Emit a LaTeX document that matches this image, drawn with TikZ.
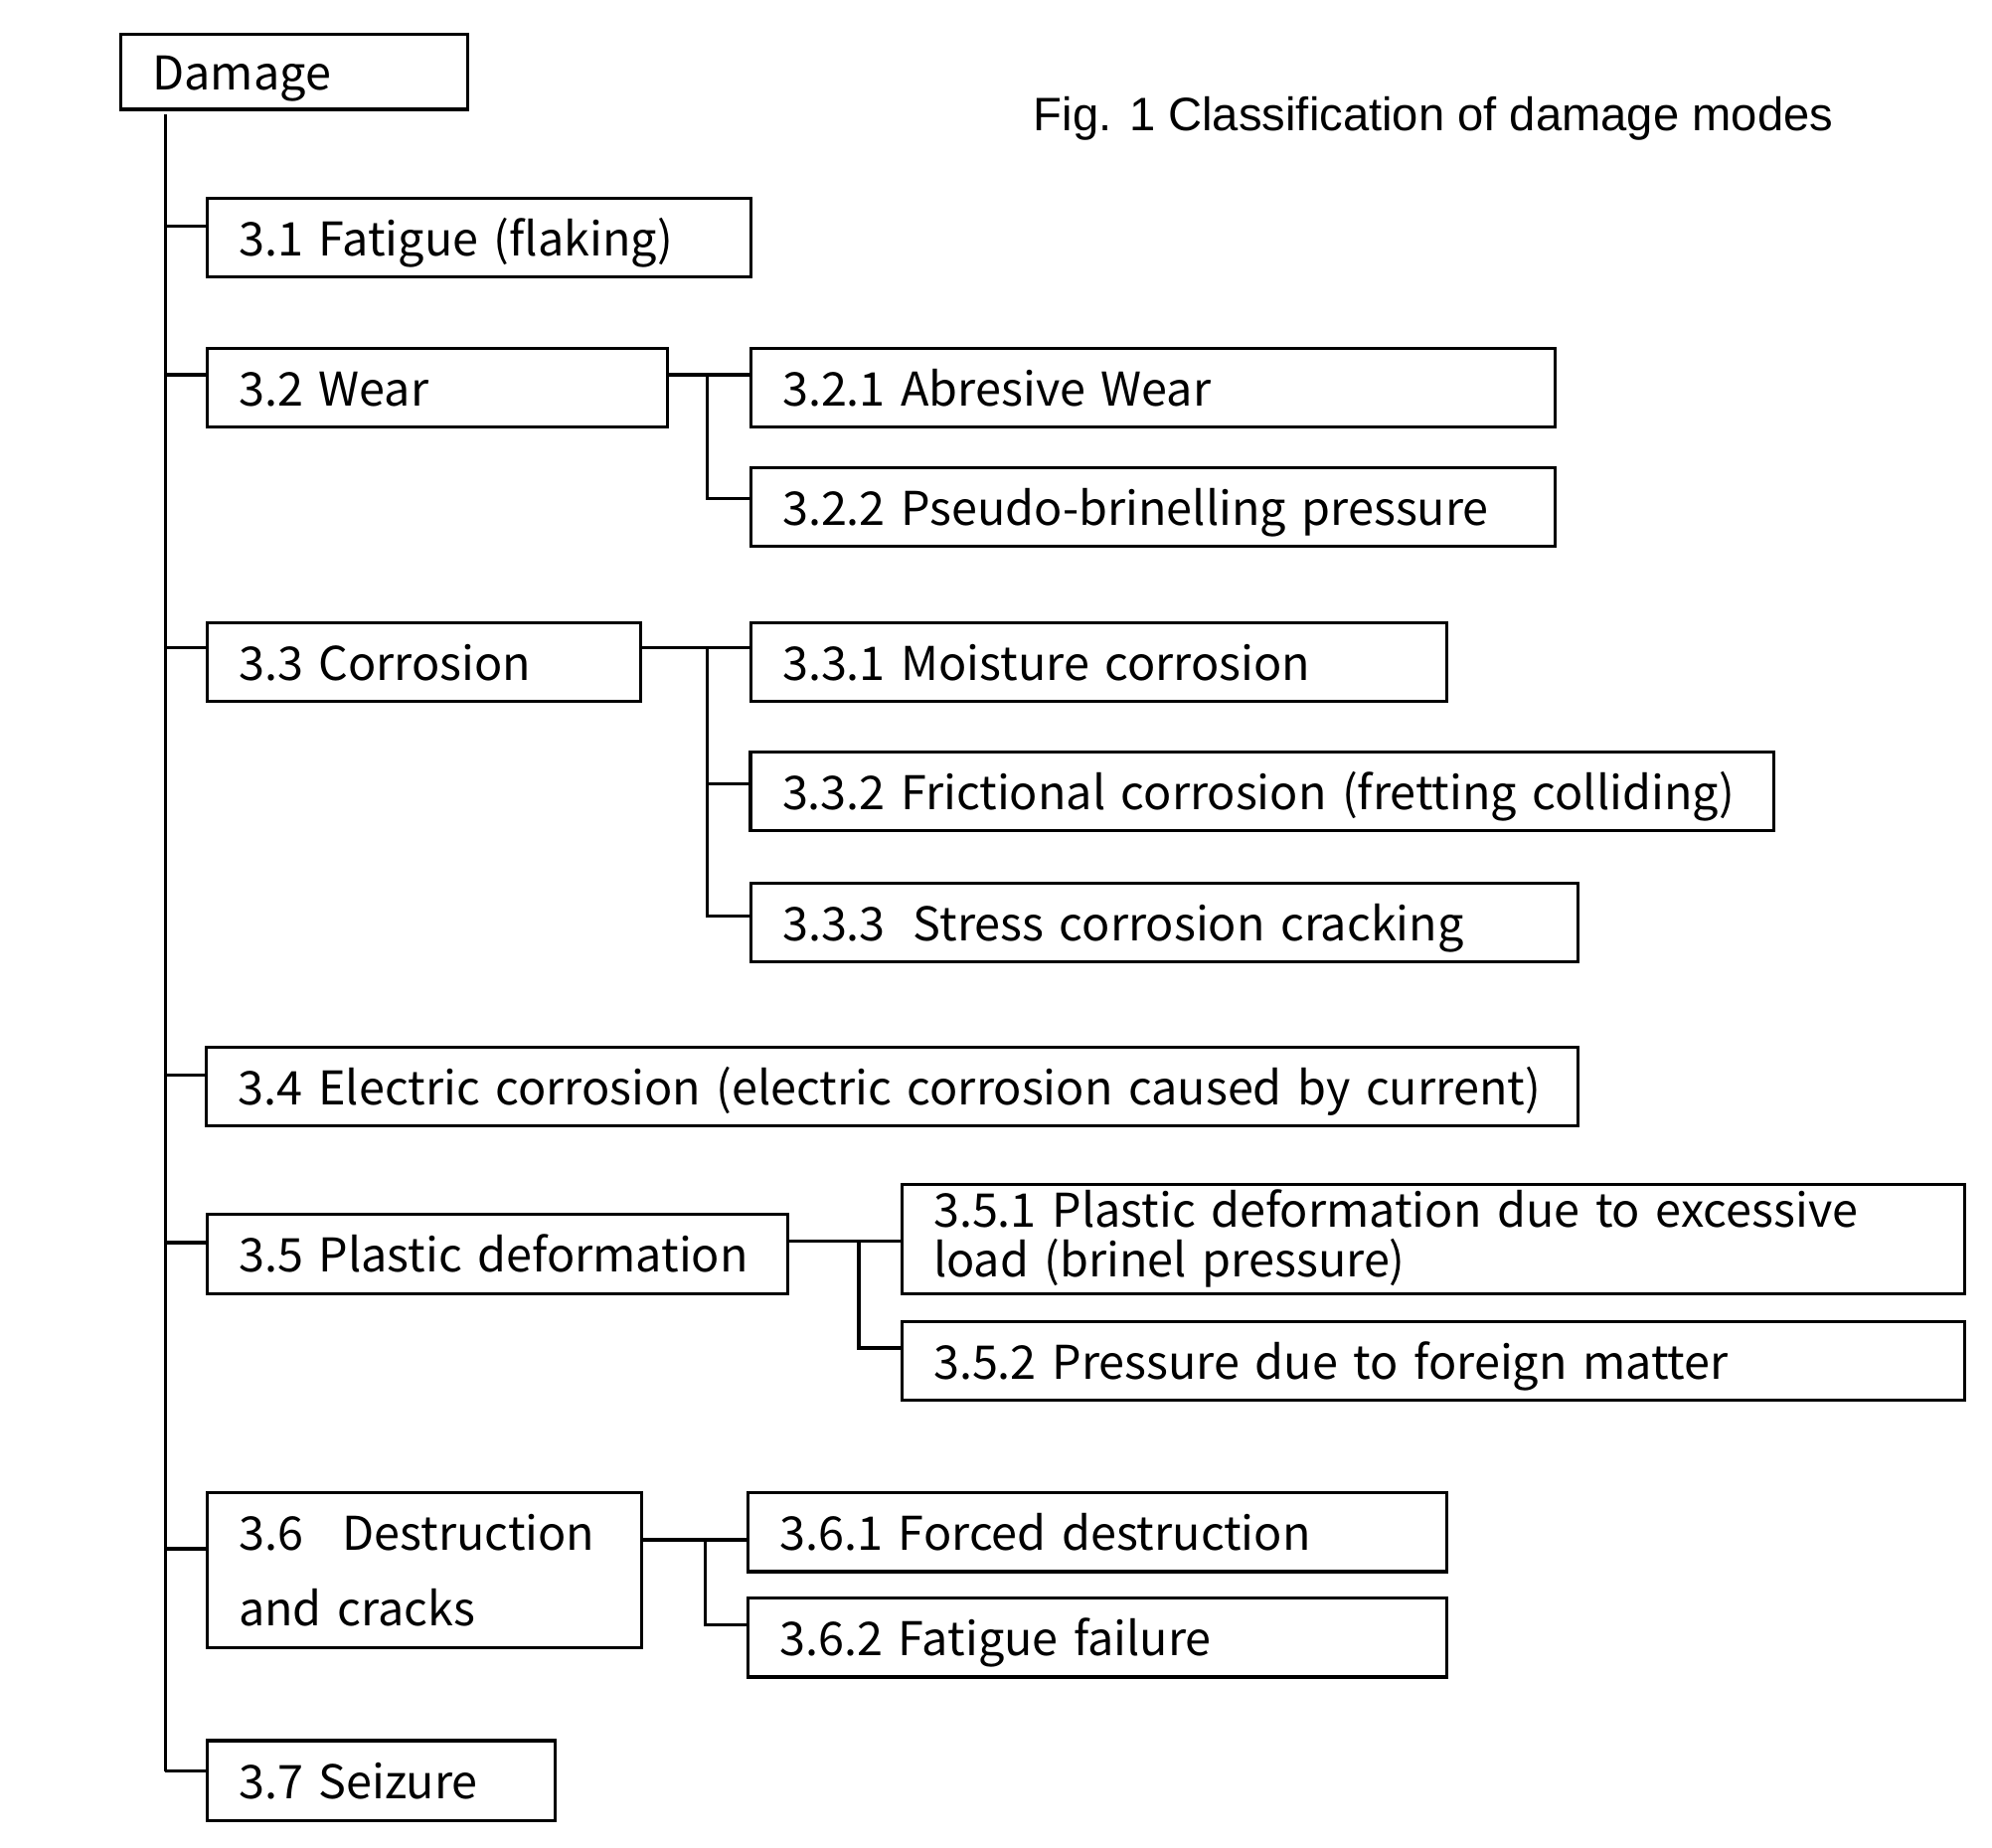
\documentclass[tikz,border=0pt]{standalone}
\usepackage{fontspec}
\setmainfont{Noto Sans CJK JP}
\newfontfamily\titlefont{Liberation Sans}
\begin{document}
\begin{tikzpicture}[x=0.01cm,y=-0.01cm,
  box/.style={draw, line width=0.7pt, inner xsep=0.25cm, inner ysep=0pt, align=left, anchor=center, minimum height=0.62cm,
    font=\fontsize{10.4}{11.1}\selectfont},
  one/.style={text height=0.36cm, text depth=0.07cm},
  conn/.style={line width=0.7pt}]
\useasboundingbox (0,0) rectangle (1568,1454);
% title
\node[anchor=base west, inner sep=0, font=\titlefont\fontsize{10.5}{13}\selectfont] (title) at (813,103) {Fig. 1 Classification of damage modes};
% root
\node[box, one, text width=2.23cm, minimum height=0.59cm] (dmg) at (231.5,56.5) {Damage};
% level 1
\node[box, one, text width=3.78cm] (b31) at (377,187) {\mbox{3.1 Fatigue (flaking)}};
\node[box, one, text width=3.12cm] (b32) at (344,305) {\mbox{3.2 Wear}};
\node[box, one, text width=2.91cm] (b33) at (333.5,521) {\mbox{3.3 Corrosion}};
\node[box, one, text width=10.29cm] (b34) at (702.5,855) {\mbox{3.4 Electric corrosion (electric corrosion caused by current)}};
\node[box, one, text width=4.07cm] (b35) at (391.5,987) {\mbox{3.5 Plastic deformation}};
\node[box, text width=2.92cm, minimum height=1.22cm, font=\fontsize{10.4}{16.8}\selectfont] (b36) at (334,1236) {3.6\hspace{0.85em}Destruction\\and cracks};
\node[box, one, text width=2.24cm, minimum height=0.63cm] (b37) at (300,1401.5) {\mbox{3.7 Seizure}};
% level 2
\node[box, one, text width=5.83cm] (b321) at (907.5,305) {\mbox{3.2.1 Abresive Wear}};
\node[box, one, text width=5.83cm] (b322) at (907.5,399) {\mbox{3.2.2 Pseudo-brinelling pressure}};
\node[box, one, text width=4.98cm] (b331) at (865,521) {\mbox{3.3.1 Moisture corrosion}};
\node[box, one, text width=7.55cm] (b332) at (993.5,623) {\mbox{3.3.2 Frictional corrosion (fretting colliding)}};
\node[box, one, text width=6.01cm] (b333) at (916.5,726) {\mbox{3.3.3\hspace{0.6em}Stress corrosion cracking}};
\node[box, text width=7.86cm, minimum height=0.86cm] (b351) at (1128,975) {3.5.1 Plastic deformation due to excessive\\load (brinel pressure)};
\node[box, one, text width=7.86cm] (b352) at (1128,1071) {\mbox{3.5.2 Pressure due to foreign matter}};
\node[box, one, text width=5.00cm] (b361) at (864,1206) {\mbox{3.6.1 Forced destruction}};
\node[box, one, text width=5.00cm] (b362) at (864,1289) {\mbox{3.6.2 Fatigue failure}};
% trunk junctions
\coordinate (t0) at (130,90);
\coordinate (j31) at (130,178);
\coordinate (j32) at (130,295);
\coordinate (j33) at (130,510);
\coordinate (j34) at (130,846);
\coordinate (j35) at (130,978);
\coordinate (j36) at (130,1219);
\coordinate (j37) at (130,1394);
\draw[conn] (t0) -- (j37);
\foreach \j/\b in {j31/b31,j32/b32,j33/b33,j34/b34,j35/b35,j36/b36,j37/b37}
  \draw[conn] (\j) -- (\j -| \b.west);
% sub junctions
\coordinate (k32) at (557,295);
\draw[conn] (k32 -| b32.east) -- (k32 -| b321.west);
\draw[conn] (k32) |- (557,392.5) -- (b322.west |- 557,392.5);
\coordinate (k33) at (557,510);
\draw[conn] (k33 -| b33.east) -- (k33 -| b331.west);
\draw[conn] (k33) -- (557,721) -- (b333.west |- 557,721);
\draw[conn] (557,617) -- (b332.west |- 557,617);
\coordinate (k35) at (676,977);
\draw[conn] (k35 -| b35.east) -- (k35 -| b351.west);
\draw[conn] (k35) -- (676,1061) -- (b352.west |- 676,1061);
\coordinate (k36) at (555,1212);
\draw[conn] (k36 -| b36.east) -- (k36 -| b361.west);
\draw[conn] (k36) -- (555,1279) -- (b362.west |- 555,1279);
\end{tikzpicture}
\end{document}
